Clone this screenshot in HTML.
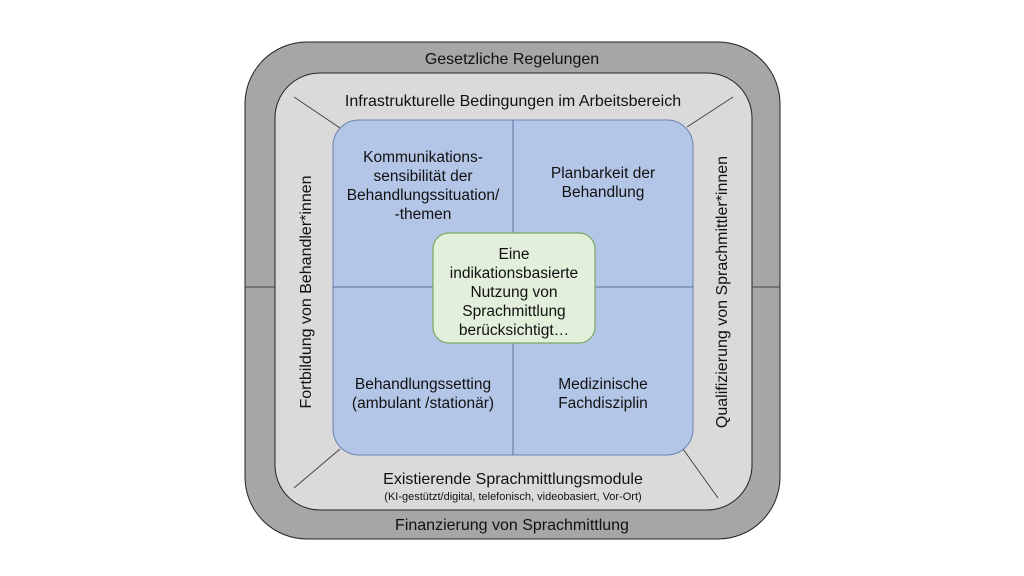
<!DOCTYPE html>
<html><head><meta charset="utf-8"><style>
html,body{margin:0;padding:0;background:#fff;}
svg{display:block;}
text{font-family:"Liberation Sans",sans-serif;fill:#111;}
</style></head><body>
<svg width="1024" height="576" viewBox="0 0 1024 576">
<rect x="245" y="42" width="535" height="497" rx="62" fill="#a7a5a5" stroke="#222" stroke-width="1"/>
<rect x="275" y="73" width="477" height="437" rx="45" fill="#dadada" stroke="#222" stroke-width="1"/>
<line x1="294" y1="97" x2="340" y2="128" stroke="#444" stroke-width="1"/>
<line x1="733" y1="97" x2="687" y2="127" stroke="#444" stroke-width="1"/>
<line x1="294" y1="488" x2="340" y2="449" stroke="#444" stroke-width="1"/>
<line x1="718" y1="498" x2="683" y2="449" stroke="#444" stroke-width="1"/>
<line x1="245" y1="287" x2="275" y2="287" stroke="#444" stroke-width="1"/>
<line x1="752" y1="287" x2="780" y2="287" stroke="#444" stroke-width="1"/>
<rect x="333" y="120" width="360" height="335" rx="26" fill="#b4c6e7" stroke="#6b82b0" stroke-width="1"/>
<line x1="513" y1="120" x2="513" y2="455" stroke="#5a72a0" stroke-width="1"/>
<line x1="333" y1="287" x2="693" y2="287" stroke="#5a72a0" stroke-width="1"/>
<rect x="433" y="233" width="162" height="110" rx="16" fill="#e2efda" stroke="#7ea764" stroke-width="1.2"/>
<g font-size="15.5" text-anchor="middle">
<text x="512" y="64" font-size="16">Gesetzliche Regelungen</text>
<text x="513" y="106" font-size="16">Infrastrukturelle Bedingungen im Arbeitsbereich</text>
<text x="423" y="162">Kommunikations-</text>
<text x="423" y="181">sensibilität der</text>
<text x="423" y="200">Behandlungssituation/</text>
<text x="423" y="219">-themen</text>
<text x="603" y="178">Planbarkeit der</text>
<text x="603" y="197">Behandlung</text>
<text x="514" y="259">Eine</text>
<text x="514" y="278">indikationsbasierte</text>
<text x="514" y="297">Nutzung von</text>
<text x="514" y="316">Sprachmittlung</text>
<text x="514" y="335">berücksichtigt…</text>
<text x="423" y="389">Behandlungssetting</text>
<text x="423" y="408">(ambulant /stationär)</text>
<text x="603" y="389">Medizinische</text>
<text x="603" y="408">Fachdisziplin</text>
<text x="513" y="484" font-size="16">Existierende  Sprachmittlungsmodule</text>
<text x="513" y="500" font-size="11">(KI-gestützt/digital, telefonisch, videobasiert, Vor-Ort)</text>
<text x="512" y="530" font-size="16">Finanzierung von Sprachmittlung</text>
<text transform="translate(311,292) rotate(-90)" font-size="16">Fortbildung von Behandler*innen</text>
<text transform="translate(727,292) rotate(-90)" font-size="16">Qualifizierung von Sprachmittler*innen</text>
</g>
</svg>
</body></html>
